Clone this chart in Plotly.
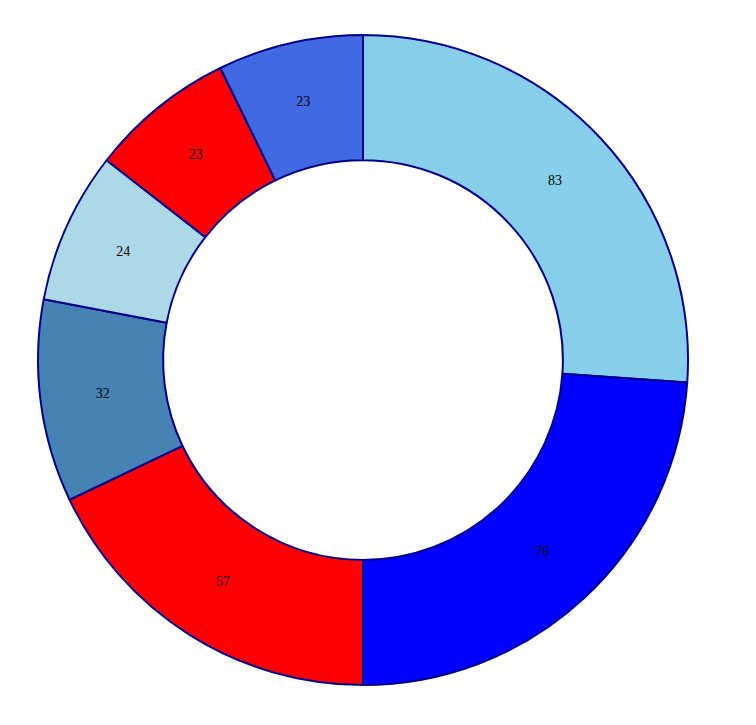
import plotly.graph_objects as go

labels = ["A", "B", "C", "D", "E", "F", "G"]
values = [83, 76, 57, 32, 24, 23, 23]
colors = ["#87CEEB", "#0000FF", "#FF0000", "#4682B4", "#ADD8E6", "#FF0000", "#4169E1"]

fig = go.Figure(go.Pie(
    labels=labels,
    values=values,
    sort=False,
    direction="clockwise",
    rotation=0,
    hole=0.615,
    marker=dict(colors=colors, line=dict(color="#00008B", width=2)),
    textinfo="value",
    textposition="inside",
    insidetextorientation="horizontal",
    textfont=dict(family="Liberation Serif", size=14, color="black"),
    showlegend=False,
))
fig.update_layout(
    width=756, height=725,
    margin=dict(l=29, r=75, t=27, b=48),
    paper_bgcolor="white",
    plot_bgcolor="white",
)
fig.write_html("out.html")
